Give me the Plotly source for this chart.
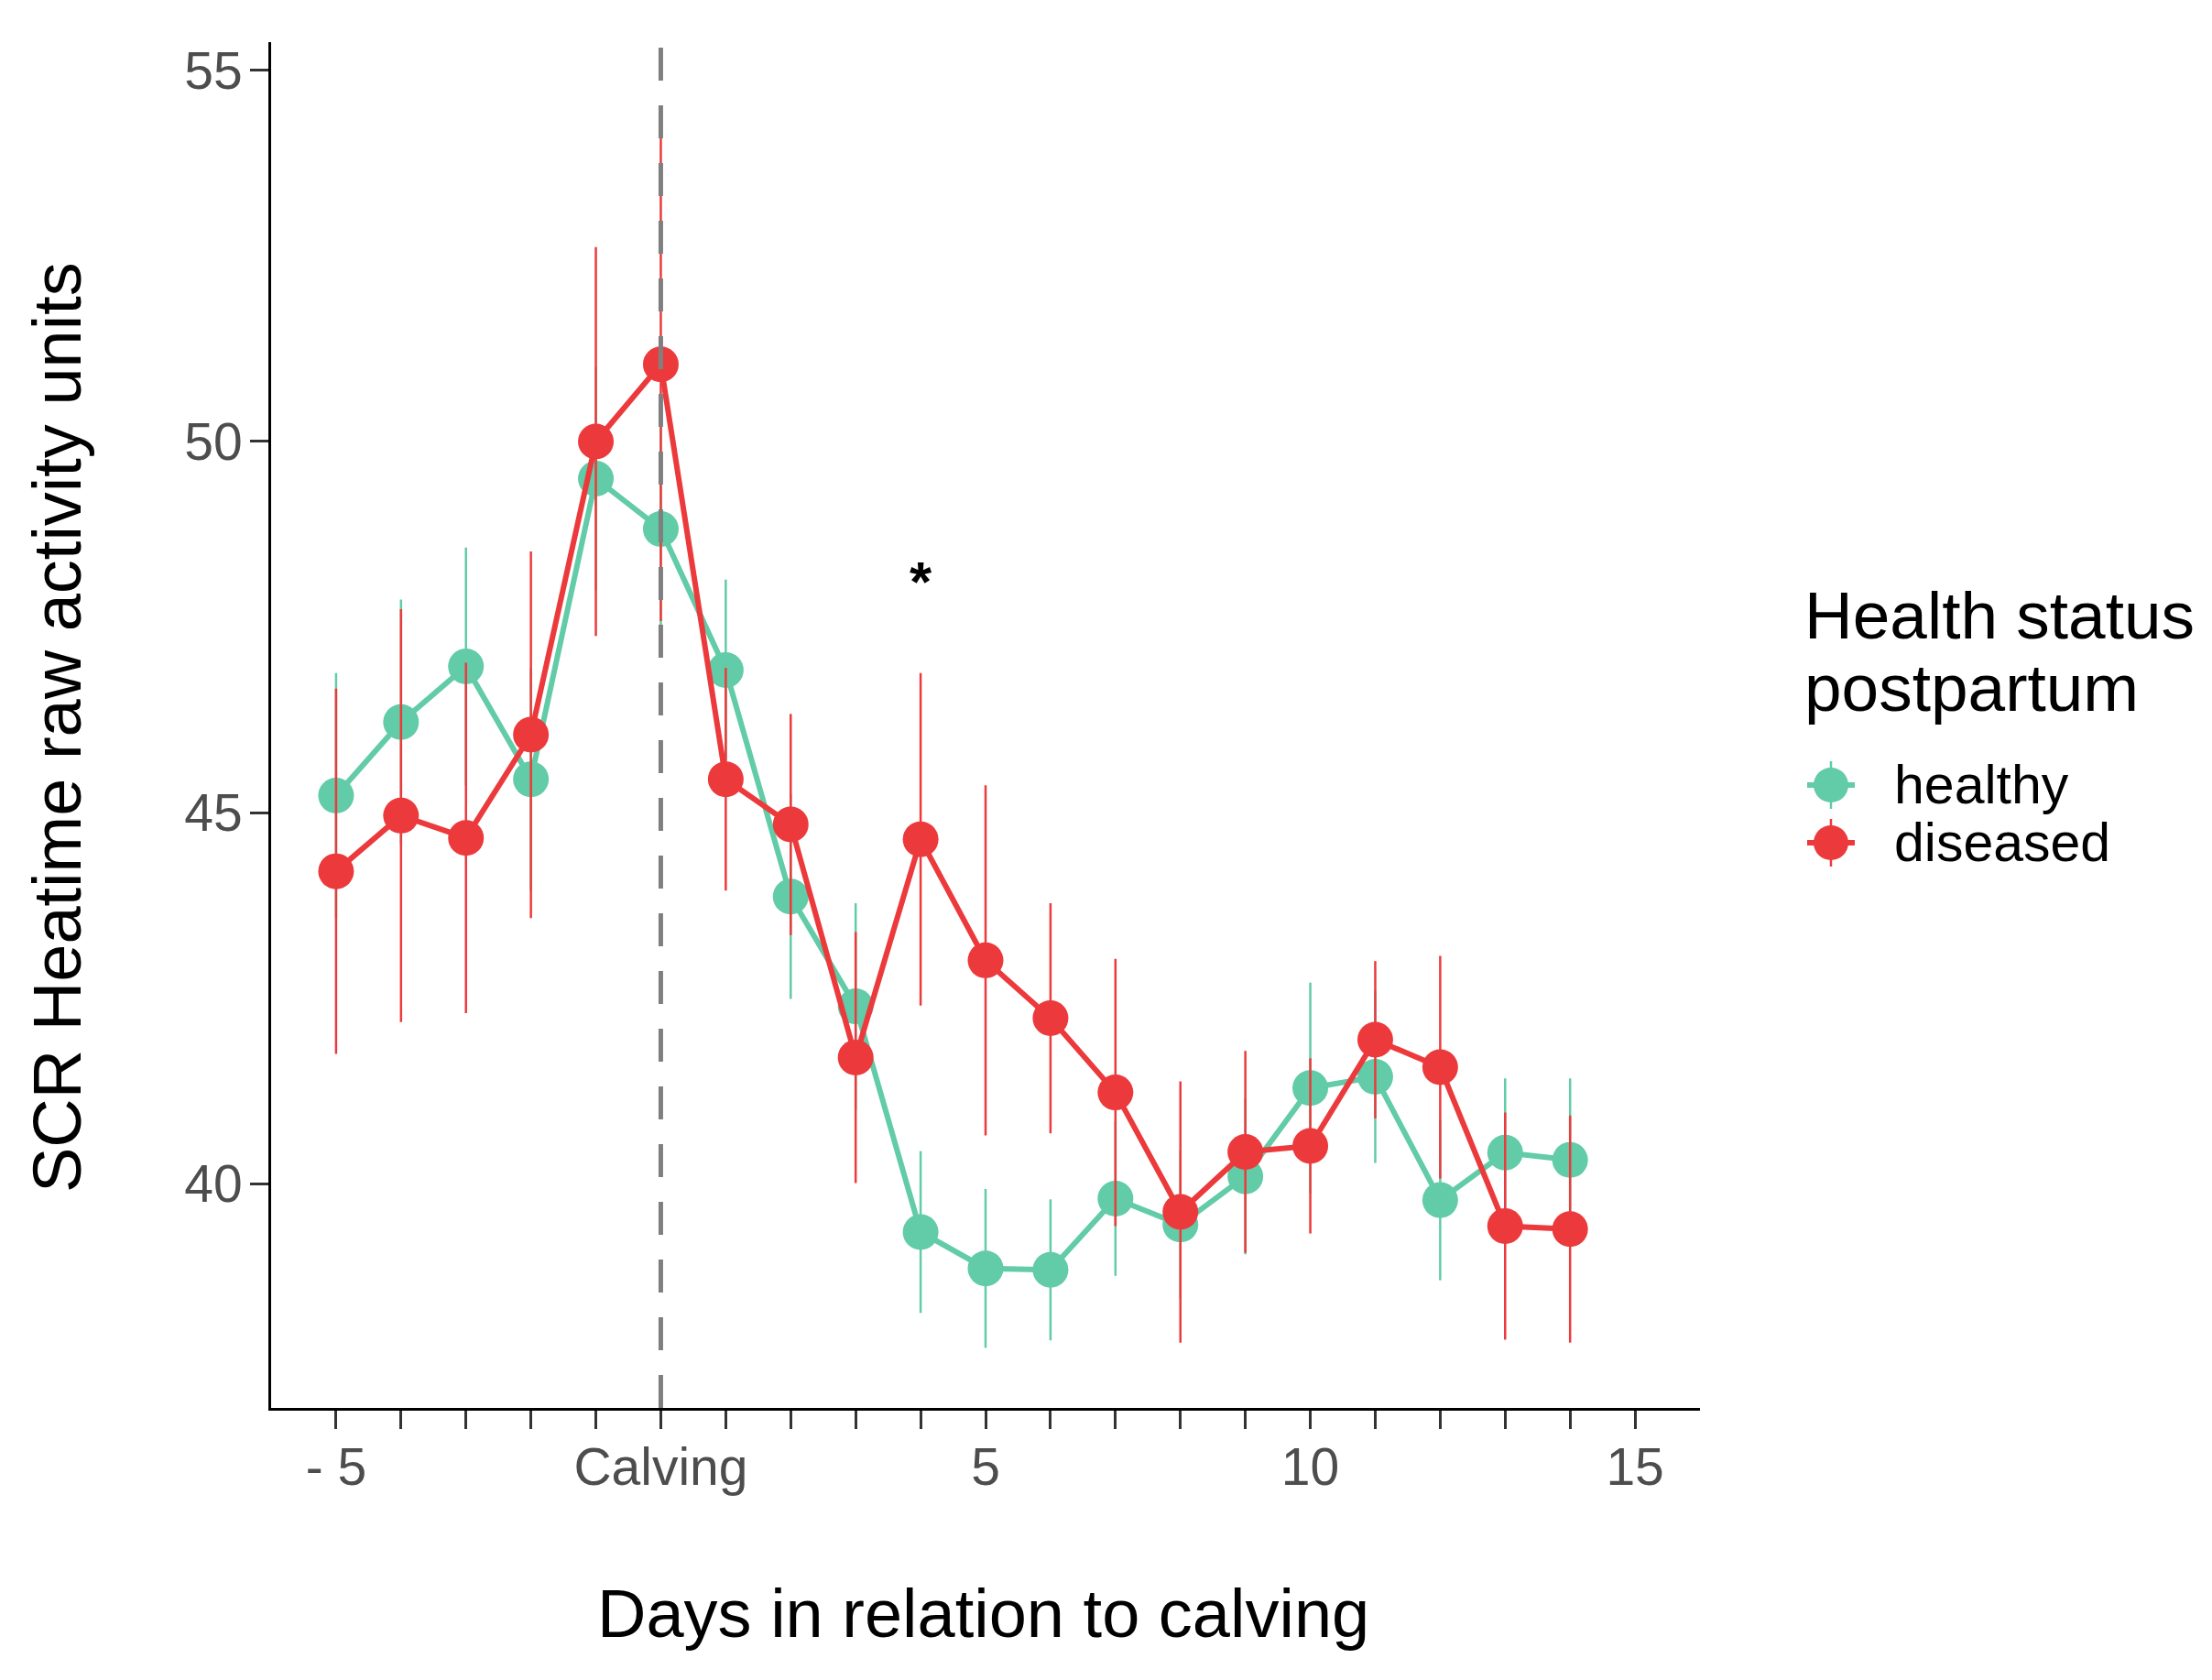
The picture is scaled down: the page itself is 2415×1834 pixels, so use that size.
import plotly.graph_objects as go

# days relative to calving
days = list(range(-5, 15))

healthy = [45.23, 46.22, 46.97, 45.45, 49.50, 48.82, 46.92, 43.87, 42.39, 39.35,
           38.86, 38.84, 39.80, 39.45, 40.10, 41.29, 41.44, 39.78, 40.42, 40.32]
healthy_err = [1.65, 1.65, 1.60, 1.50, 1.50, 1.60, 1.22, 1.38, 1.39, 1.09,
               1.07, 0.95, 1.04, 1.00, 1.05, 1.42, 1.16, 1.08, 1.00, 1.10]

diseased = [44.21, 44.96, 44.66, 46.05, 50.00, 51.04, 45.45, 44.84, 41.70, 44.64,
            43.01, 42.23, 41.23, 39.62, 40.43, 40.51, 41.94, 41.57, 39.43, 39.39]
diseased_err = [2.46, 2.78, 2.36, 2.47, 2.62, 3.46, 1.50, 1.49, 1.69, 2.24,
                2.36, 1.55, 1.80, 1.76, 1.36, 1.18, 1.06, 1.50, 1.53, 1.53]

x_tick_vals = list(range(-5, 16))
x_tick_text = ['- 5', '', '', '', '', 'Calving', '', '', '', '', '5',
               '', '', '', '', '10', '', '', '', '', '15']
y_tick_vals = [40, 45, 50, 55]

signif_day = 4
signif_y = 48.15

GREEN = '#62CBA7'
RED = '#EC3A3C'
FONT = 'Liberation Sans, Arial, sans-serif'

# target plot area in page pixels; the html body adds an 8px margin
W, H = 2415, 1834
OFF = 8
L0, T0 = 296, 46
PW, PH = 1560, 1491
L, T = L0 - OFF, T0 - OFF
R, B = W - L - PW, H - T - PH


def px(xp):
    return (xp - L0) / PW


def py(yp):
    return 1 - (yp - T0) / PH


fig = go.Figure()

for name, vals, errs, col in [('healthy', healthy, healthy_err, GREEN),
                              ('diseased', diseased, diseased_err, RED)]:
    fig.add_trace(go.Scatter(
        x=days,
        y=vals,
        name=name,
        mode='lines+markers',
        line=dict(color=col, width=6),
        marker=dict(color=col, size=39),
        error_y=dict(type='data', array=errs, visible=True,
                     color=col, thickness=2.5, width=0),
        showlegend=False
    ))

# calving reference line
fig.add_shape(type='line', x0=0, x1=0, y0=0, y1=1, xref='x', yref='paper',
              line=dict(color='#7F7F7F', width=5, dash='36px,27px'),
              layer='above')

# significance mark
fig.add_annotation(x=signif_day, y=signif_y, text='<b>*</b>', showarrow=False,
                   font=dict(family=FONT, size=62, color='black'),
                   yanchor='middle', yshift=-3)

# axis titles
fig.add_annotation(x=px(1073), y=py(1761), xref='paper', yref='paper',
                   text='Days in relation to calving', showarrow=False,
                   xanchor='center', yanchor='middle',
                   font=dict(family=FONT, size=74, color='black'))
fig.add_annotation(x=px(62), y=py(794), xref='paper', yref='paper',
                   text='SCR Heatime raw activity units', showarrow=False,
                   textangle=-90, xanchor='center', yanchor='middle',
                   font=dict(family=FONT, size=74, color='black'))

# legend, drawn by hand to get ggplot-sized keys
fig.add_annotation(x=px(1968), y=py(672), xref='paper', yref='paper',
                   text='Health status', showarrow=False, xanchor='left',
                   yanchor='middle', font=dict(family=FONT, size=73, color='black'))
fig.add_annotation(x=px(1968), y=py(750), xref='paper', yref='paper',
                   text='postpartum', showarrow=False, xanchor='left',
                   yanchor='middle', font=dict(family=FONT, size=73, color='black'))

for label, col, yc in [('healthy', GREEN, 857), ('diseased', RED, 920)]:
    fig.add_shape(type='line', xref='paper', yref='paper',
                  xsizemode='pixel', ysizemode='pixel',
                  xanchor=px(1999), yanchor=py(yc),
                  x0=-26, x1=26, y0=0, y1=0,
                  line=dict(color=col, width=6))
    fig.add_shape(type='line', xref='paper', yref='paper',
                  xsizemode='pixel', ysizemode='pixel',
                  xanchor=px(1999), yanchor=py(yc),
                  x0=0, x1=0, y0=-26, y1=26,
                  line=dict(color=col, width=2.5))
    fig.add_shape(type='circle', xref='paper', yref='paper',
                  xsizemode='pixel', ysizemode='pixel',
                  xanchor=px(1999), yanchor=py(yc),
                  x0=-19, x1=19, y0=-19, y1=19,
                  fillcolor=col, line=dict(width=0))
    fig.add_annotation(x=px(2066), y=py(yc), xref='paper', yref='paper',
                       text=label, showarrow=False, xanchor='left',
                       yanchor='middle', font=dict(family=FONT, size=59, color='black'))

fig.update_xaxes(
    range=[-6, 16],
    tickvals=x_tick_vals,
    ticktext=x_tick_text,
    ticks='outside', ticklen=20, tickwidth=3, tickcolor='#333333',
    ticklabelstandoff=-7,
    showline=True, linecolor='black', linewidth=3,
    showgrid=False, zeroline=False,
    tickfont=dict(family=FONT, size=57, color='#4D4D4D')
)

fig.update_yaxes(
    range=[36.98, 55.38],
    tickvals=y_tick_vals,
    ticks='outside', ticklen=20, tickwidth=3, tickcolor='#333333',
    ticklabelstandoff=-3,
    showline=True, linecolor='black', linewidth=3,
    showgrid=False, zeroline=False,
    tickfont=dict(family=FONT, size=57, color='#4D4D4D')
)

fig.update_layout(
    width=W, height=H,
    margin=dict(l=L, r=R, t=T, b=B),
    plot_bgcolor='white',
    paper_bgcolor='white',
    showlegend=False
)

fig.write_html('out.html')
